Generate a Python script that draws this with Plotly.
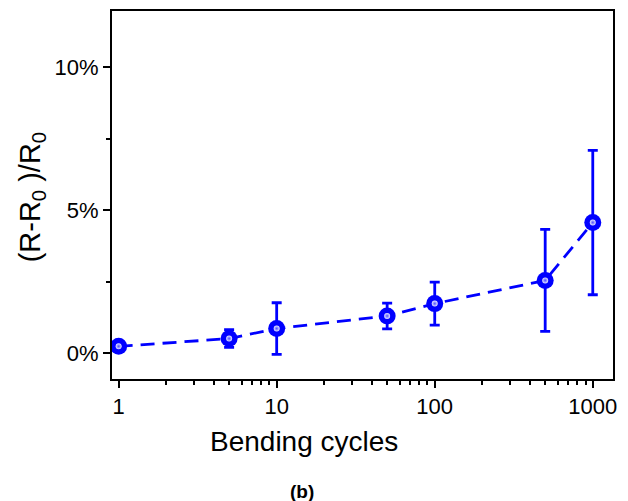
import plotly.graph_objects as go

cycles = [1, 5, 10, 50, 100, 500, 1000]
resistance_change = [0.25, 0.52, 0.87, 1.31, 1.74, 2.55, 4.57]
error = [0.12, 0.31, 0.9, 0.45, 0.75, 1.78, 2.52]

y_tickvals = [0, 5, 10]
y_ticktext = ["0%", "5%", "10%"]
y_minor = [2.5, 7.5]
x_tickvals = [1, 10, 100, 1000]
x_ticktext = ["1", "10", "100", "1000"]
x_minor = [m * d for d in (1, 10, 100) for m in range(2, 10)]

BLUE = "#0000FF"
FONT = "Liberation Sans, Arial, sans-serif"

fig = go.Figure()
fig.add_trace(go.Scatter(
    x=cycles, y=resistance_change, mode="lines+markers",
    line=dict(color=BLUE, width=2.8, dash="14px,8px"),
    marker=dict(size=17, color=BLUE, line=dict(width=0)),
    error_y=dict(type="data", array=error, visible=True, color=BLUE,
                 thickness=2.8, width=5),
    showlegend=False, hoverinfo="x+y",
))
# highlight overlay for sphere look
fig.add_trace(go.Scatter(
    x=cycles, y=resistance_change, mode="markers",
    marker=dict(size=6, color="#e6e6ff", line=dict(width=0),
                gradient=dict(type="radial", color="#5050ff")),
    showlegend=False, hoverinfo="skip",
))

fig.update_layout(
    width=628, height=501,
    margin=dict(l=112, r=15, t=9, b=122),
    paper_bgcolor="white", plot_bgcolor="white",
    font=dict(family=FONT, color="black"),
    xaxis=dict(
        type="log", range=[-0.042, 3.128],
        tickvals=x_tickvals, ticktext=x_ticktext,
        ticks="outside", ticklen=7, tickwidth=1.5, tickcolor="black",
        minor=dict(tickvals=x_minor, ticks="outside", ticklen=4,
                   tickwidth=1.5, tickcolor="black", showgrid=False),
        showline=True, linewidth=2, linecolor="black", mirror=True,
        showgrid=False, zeroline=False,
        tickfont=dict(size=22, family=FONT),
    ),
    yaxis=dict(
        range=[-0.89, 11.95],
        tickvals=y_tickvals, ticktext=y_ticktext,
        ticks="outside", ticklen=7, tickwidth=1.5, tickcolor="black",
        minor=dict(tickvals=y_minor, ticks="outside", ticklen=4,
                   tickwidth=1.5, tickcolor="black", showgrid=False),
        showline=True, linewidth=2, linecolor="black", mirror=True,
        showgrid=False, zeroline=False,
        tickfont=dict(size=22, family=FONT),
    ),
    annotations=[
        dict(text="Bending cycles", xref="paper", yref="paper",
             x=0.3836, y=-0.1695, xanchor="center", yanchor="middle",
             showarrow=False, font=dict(size=28, family=FONT)),
        dict(text="<b>(b)</b>", xref="paper", yref="paper",
             x=0.3796, y=-0.3046, xanchor="center", yanchor="middle",
             showarrow=False, font=dict(size=19, family=FONT)),
        dict(text="(R-R<sub>0</sub> )/R<sub>0</sub>", xref="paper", yref="paper",
             x=-0.159, y=0.4946, xanchor="center", yanchor="middle",
             textangle=-90, showarrow=False, font=dict(size=29, family=FONT)),
    ],
)

fig.write_html("out.html", config={"displayModeBar": False},
               post_script="document.body.style.margin='0';document.body.style.overflow='hidden';")
